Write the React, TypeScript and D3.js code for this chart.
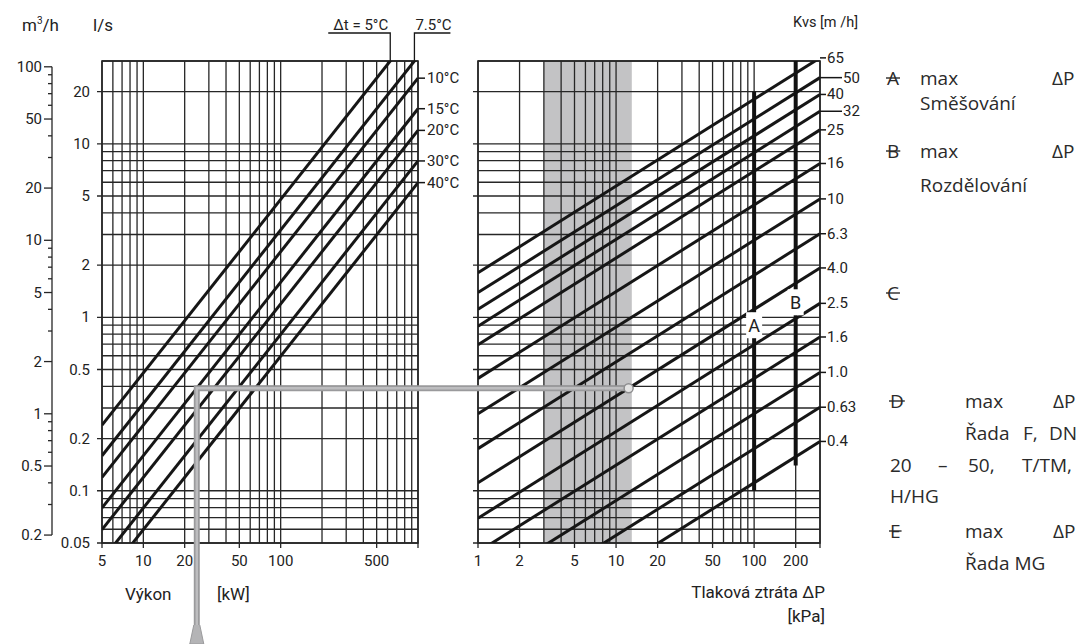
import React, { useRef, useEffect } from 'react';
import * as d3 from 'd3';

// levý graf: výkon [kW] -> průtok [l/s]
const powerDomain = [5, 1000];
const powerTicks = [5, 10, 20, 50, 100, 500];
const flowDomain = [0.05, 30];
const flowTicks = [20, 10, 5, 2, 1, 0.5, 0.2, 0.1, 0.05];
const m3hDomain = [0.2, 100];
const m3hTicks = [100, 50, 20, 10, 5, 2, 1, 0.5, 0.2];
const deltaT = [5, 7.5, 10, 15, 20, 30, 40];
const deltaTLabels = ['Δt = 5°C', '7.5°C', '10°C', '15°C', '20°C', '30°C', '40°C'];

// pravý graf: tlaková ztráta [kPa], Kvs křivky
const dpDomain = [1, 300];
const dpTicks = [1, 2, 5, 10, 20, 50, 100, 200];
const kvsValues = [65, 50, 40, 32, 25, 16, 10, 6.3, 4.0, 2.5, 1.6, 1.0, 0.63, 0.4];
const kvsLabels = ['65', '50', '40', '32', '25', '16', '10', '6.3', '4.0', '2.5', '1.6', '1.0', '0.63', '0.4'];
const kvsShifted = ['50', '32'];
const bandDp = [3, 13];

// limity A, B (max ΔP)
const limitNames = ['A', 'B'];
const limitDp = [100, 200];
const limitTop = [20, 30];
const limitBottom = [0.1, 0.14];
const limitLabelFlow = [0.9, 1.22];

// příklad odečtu
const examplePower = 24.5;
const exampleDt = 15;
const exampleKvs = 4.0;

const W = 1083;
const H = 644;
const FONT = "Roboto, 'Liberation Sans', sans-serif";
const LEGEND_FONT = "'Open Sans', 'Noto Sans', sans-serif";

const flowFromPower = (p: number, dt: number) => p / (4.186 * dt);
const flowFromKv = (kv: number, dp: number) => (kv * Math.sqrt(dp / 100)) / 3.6;

export default function App() {
  const ref = useRef<SVGSVGElement>(null);

  useEffect(() => {
    if (!ref.current) return;
    const svg = d3.select(ref.current);
    svg.selectAll('*').remove();

    const top = 61, bottom = 543;
    const xL = d3.scaleLog().domain(powerDomain).range([102, 418]);
    const xR = d3.scaleLog().domain(dpDomain).range([478, 820]);
    const y = d3.scaleLog().domain(flowDomain).range([bottom, top]);
    const yM = (m3h: number) => y(m3h / 3.6);

    const defs = svg.append('defs');
    defs.append('clipPath').attr('id', 'clipL').append('rect')
      .attr('x', xL(powerDomain[0])).attr('y', top)
      .attr('width', xL(powerDomain[1]) - xL(powerDomain[0])).attr('height', bottom - top);
    defs.append('clipPath').attr('id', 'clipR').append('rect')
      .attr('x', xR(dpDomain[0])).attr('y', top)
      .attr('width', xR(dpDomain[1]) - xR(dpDomain[0])).attr('height', bottom - top);

    const gridColor = '#262626';
    const line = d3.line<[number, number]>();

    // --- šedé pásmo
    svg.append('rect')
      .attr('x', xR(bandDp[0])).attr('y', top)
      .attr('width', xR(bandDp[1]) - xR(bandDp[0])).attr('height', bottom - top)
      .attr('fill', '#c3c3c5');

    // --- mřížka
    const drawGrid = (g: d3.Selection<SVGGElement, unknown, null, undefined>, x: d3.ScaleLogarithmic<number, number>, labeledX: number[]) => {
      const [x0, x1] = x.range();
      x.ticks().forEach(t => {
        const ext = labeledX.includes(t) || t === x.domain()[1] ? 5 : 0;
        g.append('line')
          .attr('x1', x(t)).attr('x2', x(t))
          .attr('y1', top).attr('y2', bottom + ext)
          .attr('stroke', gridColor).attr('stroke-width', 1.3);
      });
      y.ticks().forEach(t => {
        const ext = flowTicks.includes(t) ? 5 : 0;
        g.append('line')
          .attr('x1', x0 - ext).attr('x2', x1)
          .attr('y1', y(t)).attr('y2', y(t))
          .attr('stroke', gridColor).attr('stroke-width', 1.3);
      });
      g.append('rect')
        .attr('x', x0).attr('y', top).attr('width', x1 - x0).attr('height', bottom - top)
        .attr('fill', 'none').attr('stroke', gridColor).attr('stroke-width', 1.6);
    };
    drawGrid(svg.append('g'), xL, powerTicks);
    drawGrid(svg.append('g'), xR, dpTicks);

    const text = (x: number, yy: number, s: string, anchor = 'start', size = 15, family = FONT) =>
      svg.append('text')
        .attr('x', x).attr('y', yy)
        .attr('text-anchor', anchor)
        .attr('font-family', family)
        .attr('font-size', size)
        .attr('fill', '#222')
        .text(s);

    // --- popisky os
    powerTicks.forEach(t => text(xL(t), 566, String(t), 'middle'));
    dpTicks.forEach(t => text(xR(t), 566, String(t), 'middle'));
    flowTicks.forEach(t => text(90, y(t) + 5, String(t), 'end'));

    // osa m3/h
    const axX = 52;
    svg.append('line')
      .attr('x1', axX).attr('x2', axX)
      .attr('y1', yM(m3hDomain[0])).attr('y2', yM(m3hDomain[1]))
      .attr('stroke', gridColor).attr('stroke-width', 1.3);
    d3.scaleLog().domain(m3hDomain).ticks().forEach(t => {
      const major = m3hTicks.includes(t);
      svg.append('line')
        .attr('x1', axX - (major ? 8 : 4)).attr('x2', axX)
        .attr('y1', yM(t)).attr('y2', yM(t))
        .attr('stroke', gridColor).attr('stroke-width', 1.3);
    });
    m3hTicks.forEach(t => text(42, yM(t) + 5, String(t), 'end'));

    const m3 = text(22, 31, 'm', 'start', 17);
    m3.append('tspan').attr('dy', -7).attr('font-size', 10).text('3');
    m3.append('tspan').attr('dy', 7).text('/h');
    text(93, 31, 'l/s', 'start', 17);
    text(858, 27, 'Kvs [m /h]', 'end', 14.5);

    text(125, 600, 'Výkon', 'start', 17);
    text(217, 600, '[kW]', 'start', 17);
    text(825, 598, 'Tlaková ztráta ΔP', 'end', 17);
    text(825, 622, '[kPa]', 'end', 17);

    // --- Δt přímky
    const gL = svg.append('g').attr('clip-path', 'url(#clipL)');
    deltaT.forEach((dt, i) => {
      gL.append('path')
        .attr('d', line(powerDomain.map(p => [xL(p), y(flowFromPower(p, dt))] as [number, number])))
        .attr('stroke', '#161616').attr('stroke-width', 3).attr('fill', 'none');
      const qEnd = flowFromPower(powerDomain[1], dt);
      if (qEnd <= flowDomain[1]) {
        const yy = y(qEnd);
        svg.append('line').attr('x1', xL(powerDomain[1])).attr('x2', xL(powerDomain[1]) + 7)
          .attr('y1', yy).attr('y2', yy).attr('stroke', '#161616').attr('stroke-width', 1.5);
        text(427, yy + 5, deltaTLabels[i], 'start', 15);
      } else {
        // vynášecí čára nahoru s podtrženým popiskem
        const px = xL(flowDomain[1] * 4.186 * dt);
        const ly = 33;
        const leftSide = i === 0;
        svg.append('path')
          .attr('d', line([[px, top], [px, ly], [leftSide ? px - 62 : px + 36, ly]]))
          .attr('stroke', '#161616').attr('stroke-width', 1.3).attr('fill', 'none');
        text(leftSide ? px - 2 : px + 1, ly - 3, deltaTLabels[i], leftSide ? 'end' : 'start', 15);
      }
    });

    // --- Kvs přímky
    const gR = svg.append('g').attr('clip-path', 'url(#clipR)');
    kvsValues.forEach((kv, i) => {
      gR.append('path')
        .attr('d', line(dpDomain.map(dp => [xR(dp), y(flowFromKv(kv, dp))] as [number, number])))
        .attr('stroke', '#161616').attr('stroke-width', 3).attr('fill', 'none');
      const yy = y(flowFromKv(kv, dpDomain[1]));
      const shifted = kvsShifted.includes(kvsLabels[i]);
      svg.append('line').attr('x1', xR(dpDomain[1])).attr('x2', xR(dpDomain[1]) + (shifted ? 22 : 6))
        .attr('y1', yy).attr('y2', yy).attr('stroke', '#161616').attr('stroke-width', 1.5);
      text(xR(dpDomain[1]) + (shifted ? 23 : 7), yy + 5, kvsLabels[i], 'start', 15);
    });

    // --- limity A, B
    limitNames.forEach((name, i) => {
      const x = xR(limitDp[i]);
      svg.append('line')
        .attr('x1', x).attr('x2', x)
        .attr('y1', y(limitTop[i])).attr('y2', y(limitBottom[i]))
        .attr('stroke', '#111').attr('stroke-width', 4);
      const ly = y(limitLabelFlow[i]);
      svg.append('rect').attr('x', x - 8).attr('y', ly - 13).attr('width', 16).attr('height', 26).attr('fill', '#fff');
      text(x, ly + 7, name, 'middle', 18);
    });

    // --- příklad odečtu (šedá čára)
    const qEx = flowFromPower(examplePower, exampleDt);
    const dpEx = 100 * Math.pow((qEx * 3.6) / exampleKvs, 2);
    const ex = xL(examplePower);
    const ey = y(qEx);
    const cx = xR(dpEx);
    const tipY = 625;
    const grey = svg.append('g');
    grey.append('path')
      .attr('d', line([[cx - 4, ey], [ex, ey], [ex, tipY]]))
      .attr('stroke', '#9a9a9c').attr('stroke-width', 6).attr('fill', 'none');
    grey.append('path')
      .attr('d', line([[cx - 4, ey], [ex, ey], [ex, tipY]]))
      .attr('stroke', '#bdbdbf').attr('stroke-width', 2.5).attr('fill', 'none');
    grey.append('path')
      .attr('d', line([[ex - 3, tipY], [ex - 7, H], [ex + 7, H], [ex + 3, tipY]]))
      .attr('fill', '#b4b4b6').attr('stroke', '#9a9a9c').attr('stroke-width', 1);
    grey.append('circle').attr('cx', cx).attr('cy', ey).attr('r', 4.5)
      .attr('fill', '#e4e4e4').attr('stroke', '#8e8e90').attr('stroke-width', 1.5);

    // --- legenda vpravo
    const legendRows: [number, number, string, boolean][] = [
      [887, 85, 'A', true], [920, 85, 'max', false], [1052, 85, 'ΔP', false],
      [920, 110, 'Směšování', false],
      [887, 158, 'B', true], [920, 158, 'max', false], [1052, 158, 'ΔP', false],
      [920, 192, 'Rozdělování', false],
      [887, 300, 'C', true],
      [890, 408, 'D', true], [965, 408, 'max', false], [1053, 408, 'ΔP', false],
      [965, 440, 'Řada', false], [1023, 440, 'F,', false], [1049, 440, 'DN', false],
      [890, 472, '20', false], [938, 472, '–', false], [968, 472, '50,', false], [1022, 472, 'T/TM,', false],
      [890, 503, 'H/HG', false],
      [890, 538, 'E', true], [965, 538, 'max', false], [1053, 538, 'ΔP', false],
      [965, 570, 'Řada MG', false],
    ];
    legendRows.forEach(([x, yy, s, strike]) => {
      const t = text(x, yy, s, 'start', 19, LEGEND_FONT).attr('fill', '#2a2a2a');
      if (strike) {
        const w = (t.node() as SVGTextElement).getComputedTextLength();
        svg.append('line').attr('x1', x - 1).attr('x2', x + w + 1)
          .attr('y1', yy - 7).attr('y2', yy - 7)
          .attr('stroke', '#2a2a2a').attr('stroke-width', 1.4);
      }
    });
  }, []);

  return (
    <svg
      ref={ref}
      width={W}
      height={H}
      style={{ position: 'absolute', left: 0, top: 0, background: '#fff', display: 'block' }}
    />
  );
}
